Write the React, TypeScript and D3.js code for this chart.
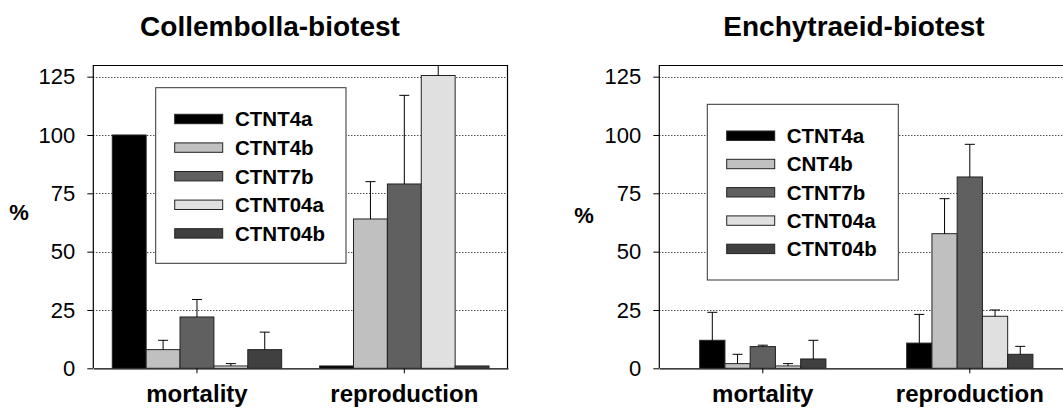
import { useEffect, useRef } from 'react'
import * as d3 from 'd3'

const categories = ['mortality', 'reproduction']
const collSeries = ['CTNT4a', 'CTNT4b', 'CTNT7b', 'CTNT04a', 'CTNT04b']
const enchSeries = ['CTNT4a', 'CNT4b', 'CTNT7b', 'CTNT04a', 'CTNT04b']
const seriesColors = ['#000000', '#c0c0c0', '#606060', '#e0e0e0', '#404040']
const yTicks = [0, 25, 50, 75, 100, 125]

// Collembolla-biotest, one value per series
const collMortality = [100, 8, 22, 1, 8]
const collMortalityErr = [0, 4, 7.5, 1, 7.5]
const collReproduction = [1, 64, 79, 125.5, 1]
const collReproductionErr = [0, 16, 38, 10, 0]

// Enchytraeid-biotest
const enchMortality = [12, 2, 9.3, 1, 4]
const enchMortalityErr = [12, 4, 0.6, 1, 8]
const enchReproduction = [10.8, 57.7, 82, 22.3, 6]
const enchReproductionErr = [12.3, 15, 14, 2.7, 3.4]

const FONT = '"Liberation Sans", Arial, sans-serif'

type Panel = {
  id: string
  title: string
  titleX: number
  pctX: number
  pctY: number
  x0: number
  x1: number
  outerPad: number
  series: string[]
  values: number[][]
  errors: number[][]
  legend: { x: number; y: number; w: number; h: number; swX: number; textX: number; row0: number; step: number }
}

const panels: Panel[] = [
  {
    id: 'coll',
    title: 'Collembolla-biotest',
    titleX: 270,
    pctX: 19,
    pctY: 212,
    x0: 93.3,
    x1: 508,
    outerPad: 0.56,
    series: collSeries,
    values: [collMortality, collReproduction],
    errors: [collMortalityErr, collReproductionErr],
    legend: { x: 155.7, y: 87.7, w: 190.3, h: 175.6, swX: 174.7, textX: 235, row0: 119, step: 28.6 }
  },
  {
    id: 'ench',
    title: 'Enchytraeid-biotest',
    titleX: 854,
    pctX: 584,
    pctY: 215,
    x0: 659.3,
    x1: 1073.3,
    outerPad: 1.6,
    series: enchSeries,
    values: [enchMortality, enchReproduction],
    errors: [enchMortalityErr, enchReproductionErr],
    legend: { x: 707.3, y: 104.3, w: 191, h: 175.7, swX: 726.7, textX: 786.7, row0: 135.7, step: 28.3 }
  }
]

export default function App() {
  const ref = useRef<SVGSVGElement>(null)

  useEffect(() => {
    const svg = d3.select(ref.current)
    svg.selectAll('*').remove()

    const top = 65
    const bottom = 368.3
    const y = d3.scaleLinear().domain([0, 130]).range([bottom, top])

    panels.forEach(p => {
      const g = svg.append('g')

      const x = d3.scaleBand().domain(categories).range([p.x0, p.x1]).padding(0)
      const xs = d3.scaleBand<number>()
        .domain(d3.range(p.series.length))
        .range([0, x.bandwidth()])
        .paddingInner(0)
        .paddingOuter(p.outerPad)

      g.append('clipPath').attr('id', `clip-${p.id}`)
        .append('rect')
        .attr('x', p.x0).attr('y', top)
        .attr('width', p.x1 - p.x0).attr('height', bottom - top)

      // title
      g.append('text')
        .attr('x', p.titleX).attr('y', 36)
        .attr('text-anchor', 'middle')
        .style('font-family', FONT).style('font-weight', 'bold').style('font-size', '28px')
        .text(p.title)

      // dotted gridlines
      g.selectAll('.grid')
        .data(yTicks.filter(t => t > 0))
        .enter().append('line')
        .attr('x1', p.x0).attr('x2', p.x1)
        .attr('y1', d => Math.round(y(d)) + 0.5).attr('y2', d => Math.round(y(d)) + 0.5)
        .attr('stroke', '#000')
        .attr('stroke-width', 1)
        .attr('stroke-dasharray', '1,2')

      // frame (top and right)
      g.append('path')
        .attr('d', `M${p.x0},${top + 0.5}H${p.x1 - 0.5}V${bottom}`)
        .attr('fill', 'none').attr('stroke', '#000').attr('stroke-width', 1.2)

      // bars
      const bars = g.append('g').attr('clip-path', `url(#clip-${p.id})`)
      categories.forEach((c, ci) => {
        p.series.forEach((s, si) => {
          const v = p.values[ci][si]
          const e = p.errors[ci][si]
          const bx = (x(c) as number) + (xs(si) as number)
          const bw = xs.bandwidth()
          bars.append('rect')
            .attr('x', bx).attr('y', y(v))
            .attr('width', bw).attr('height', y(0) - y(v))
            .attr('fill', seriesColors[si])
            .attr('stroke', '#222').attr('stroke-width', 1)
          if (e > 0) {
            const cx = bx + bw / 2
            bars.append('line')
              .attr('x1', cx).attr('x2', cx)
              .attr('y1', y(v)).attr('y2', y(v + e))
              .attr('stroke', '#000').attr('stroke-width', 1)
            bars.append('line')
              .attr('x1', cx - 5).attr('x2', cx + 5)
              .attr('y1', y(v + e)).attr('y2', y(v + e))
              .attr('stroke', '#000').attr('stroke-width', 1)
          }
        })
      })

      // y axis
      const yAxis = g.append('g')
        .attr('transform', `translate(${p.x0},0)`)
        .call(d3.axisLeft(y).tickValues(yTicks).tickSize(6).tickPadding(12).tickSizeOuter(0))
      yAxis.select('.domain').attr('d', `M0,${top}V${bottom}`).attr('stroke-width', 1.2)
      yAxis.selectAll('text')
        .style('font-family', FONT).style('font-size', '22px').attr('fill', '#000')

      // x axis
      const xAxis = g.append('g')
        .attr('transform', `translate(0,${bottom})`)
        .call(d3.axisBottom(x).tickSize(5).tickSizeOuter(0).tickFormat(() => ''))
      xAxis.select('.domain').attr('stroke-width', 1.2)

      categories.forEach(c => {
        g.append('text')
          .attr('x', (x(c) as number) + x.bandwidth() / 2)
          .attr('y', 402)
          .attr('text-anchor', 'middle')
          .style('font-family', FONT).style('font-weight', 'bold').style('font-size', '24px')
          .text(c)
      })

      // % label
      g.append('text')
        .attr('x', p.pctX).attr('y', p.pctY)
        .attr('dy', '0.35em')
        .attr('text-anchor', 'middle')
        .style('font-family', FONT).style('font-weight', 'bold').style('font-size', '22px')
        .text('%')

      // legend
      const L = p.legend
      const lg = g.append('g')
      lg.append('rect')
        .attr('x', L.x).attr('y', L.y).attr('width', L.w).attr('height', L.h)
        .attr('fill', '#fff').attr('stroke', '#333').attr('stroke-width', 1)
      p.series.forEach((s, i) => {
        const ry = L.row0 + i * L.step
        lg.append('rect')
          .attr('x', L.swX).attr('y', ry - 4.7)
          .attr('width', 48).attr('height', 9.4)
          .attr('fill', seriesColors[i])
          .attr('stroke', '#222').attr('stroke-width', 1)
        lg.append('text')
          .attr('x', L.textX).attr('y', ry)
          .attr('dy', '0.36em')
          .style('font-family', FONT).style('font-weight', 'bold').style('font-size', '20.5px')
          .text(s)
      })
    })
  }, [])

  return (
    <svg
      ref={ref}
      width={1063}
      height={412}
      style={{ position: 'absolute', left: 0, top: 0, background: '#fff' }}
    />
  )
}
